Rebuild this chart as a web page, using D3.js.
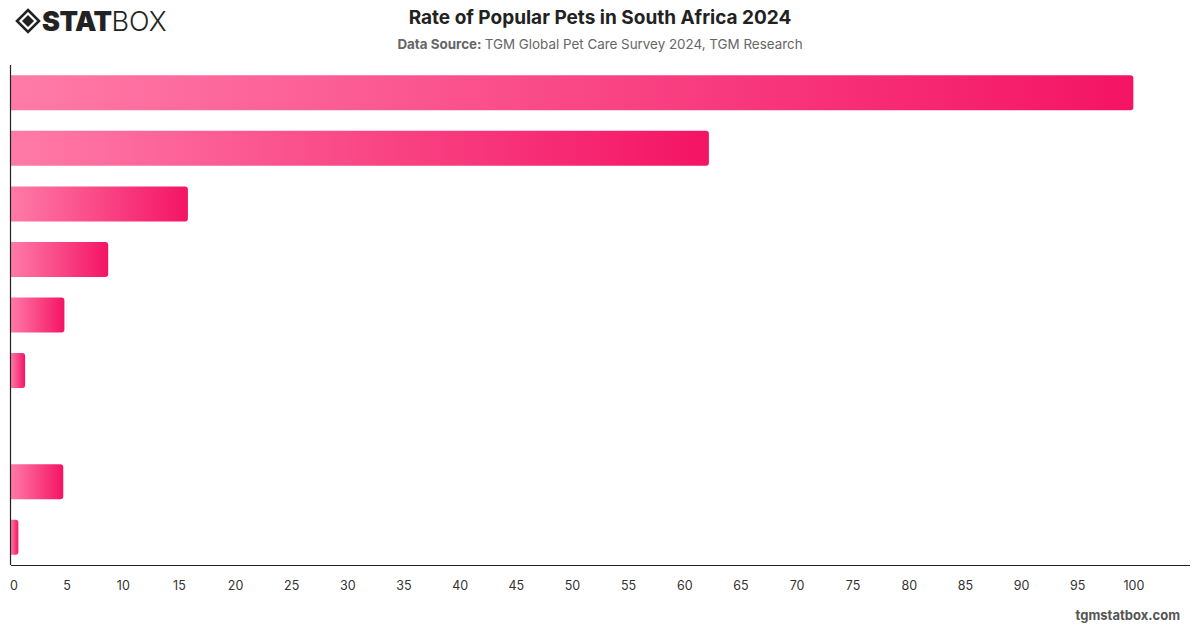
<!DOCTYPE html>
<html>
<head>
<meta charset="utf-8">
<script src="https://cdn.jsdelivr.net/npm/d3@7"></script>
<style>
  body { margin: 0; background: #fff; }
  svg { display: block; font-family: Inter, "Helvetica Neue", Arial, sans-serif; }
</style>
</head>
<body>
<svg width="1200" height="628"></svg>
<script>
// pets (labels are not shown on the chart) and their rates
var pets = ["Dog", "Cat", "Fish", "Bird", "Rabbit", "Hamster", "Reptile", "Other", "Horse"];
var rates = [100, 62.2, 15.8, 8.7, 4.8, 1.3, 0, 4.7, 0.7];
var xTicks = d3.range(0, 101, 5);

var svg = d3.select("svg"),
    width = +svg.attr("width"),
    height = +svg.attr("height");

var margin = {top: 65, right: 10.5, bottom: 63, left: 10.5};

var x = d3.scaleLinear()
    .domain([0, 105])
    .range([margin.left, width - margin.right]);

var y = d3.scaleBand()
    .domain(pets)
    .range([margin.top, height - margin.bottom])
    .paddingInner(0.37)
    .paddingOuter(0.185);

var data = pets.map(function(p, i) { return {pet: p, rate: rates[i]}; });

// gradient used on every bar
var defs = svg.append("defs");
var grad = defs.append("linearGradient")
    .attr("id", "barGrad")
    .attr("x1", "0%").attr("x2", "100%")
    .attr("y1", "0%").attr("y2", "0%");
grad.append("stop").attr("offset", "0%").attr("stop-color", "#ff7ba8");
grad.append("stop").attr("offset", "100%").attr("stop-color", "#f41464");

// bars, square on the left, rounded on the right
function barPath(d) {
    var x0 = x(0), x1 = x(d.rate), y0 = y(d.pet), h = y.bandwidth();
    var r = Math.min(3, (x1 - x0) / 2);
    return "M" + x0 + "," + y0 +
        "H" + (x1 - r) +
        "Q" + x1 + "," + y0 + " " + x1 + "," + (y0 + r) +
        "V" + (y0 + h - r) +
        "Q" + x1 + "," + (y0 + h) + " " + (x1 - r) + "," + (y0 + h) +
        "H" + x0 + "Z";
}

svg.append("g")
    .selectAll("path")
    .data(data.filter(function(d) { return d.rate > 0; }))
    .enter().append("path")
    .attr("d", barPath)
    .attr("fill", "url(#barGrad)");

// axes
var xAxis = svg.append("g")
    .attr("transform", "translate(0," + (height - margin.bottom) + ")")
    .call(d3.axisBottom(x).tickValues(xTicks).tickSize(0).tickPadding(16));
xAxis.select(".domain").attr("stroke", "#222").attr("stroke-width", 1.2);
xAxis.selectAll("text")
    .attr("fill", "#333")
    .style("font-size", "12.5px")
    .style("font-family", "Inter, Helvetica, Arial, sans-serif");
xAxis.selectAll(".tick").filter(function(d) { return d === 0; })
    .select("text").attr("dx", "3");

svg.append("line")
    .attr("x1", x(0)).attr("x2", x(0))
    .attr("y1", margin.top).attr("y2", height - margin.bottom)
    .attr("stroke", "#222").attr("stroke-width", 1.2);

// title & subtitle
svg.append("text")
    .attr("x", 600).attr("y", 24)
    .attr("text-anchor", "middle")
    .attr("fill", "#222")
    .style("font-size", "19px")
    .style("font-weight", "700")
    .text("Rate of Popular Pets in South Africa 2024");

var sub = svg.append("text")
    .attr("x", 600).attr("y", 49)
    .attr("text-anchor", "middle")
    .attr("fill", "#666")
    .style("font-size", "13.4px");
sub.append("tspan").style("font-weight", "700").text("Data Source: ");
sub.append("tspan").text("TGM Global Pet Care Survey 2024, TGM Research");

// footer
svg.append("text")
    .attr("x", 1180).attr("y", 620)
    .attr("text-anchor", "end")
    .attr("fill", "#555")
    .style("font-size", "13px")
    .style("font-weight", "700")
    .text("tgmstatbox.com");

// logo
var logo = svg.append("g").attr("transform", "translate(28,21)");
logo.append("path")
    .attr("d", "M0,-11 L11,0 L0,11 L-11,0 Z")
    .attr("fill", "none").attr("stroke", "#222").attr("stroke-width", 2.6);
logo.append("path")
    .attr("d", "M0,-6 L6,0 L0,6 L-6,0 Z")
    .attr("fill", "#222");
var logoText = svg.append("text")
    .attr("x", 42).attr("y", 31)
    .attr("fill", "#222")
    .style("font-size", "27px");
logoText.append("tspan").style("font-weight", "900").attr("letter-spacing", "-0.5").text("STAT");
logoText.append("tspan").style("font-weight", "300").text("BOX");
</script>
</body>
</html>
